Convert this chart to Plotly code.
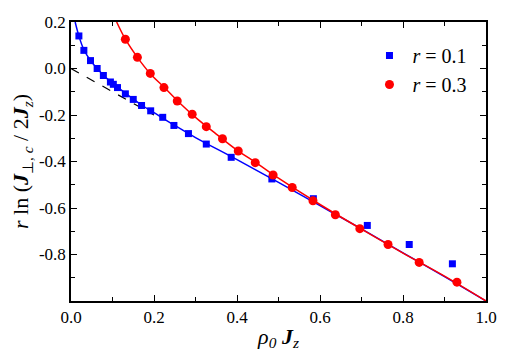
import plotly.graph_objects as go

# r = 0.1 data (blue squares)
x_r01 = [0.019, 0.031, 0.047, 0.063, 0.078, 0.095, 0.102, 0.112, 0.131, 0.150,
         0.170, 0.192, 0.221, 0.248, 0.283, 0.326, 0.386, 0.484, 0.584, 0.714,
         0.815, 0.919]
y_r01 = [0.140, 0.078, 0.034, 0.000, -0.030, -0.058, -0.068, -0.082, -0.109, -0.133,
         -0.159, -0.182, -0.210, -0.245, -0.280, -0.325, -0.382, -0.475, -0.560, -0.675,
         -0.757, -0.840]

# r = 0.3 data (red circles)
x_r03 = [0.131, 0.160, 0.191, 0.224, 0.256, 0.292, 0.326, 0.365, 0.403, 0.444,
         0.487, 0.533, 0.583, 0.637, 0.696, 0.764, 0.839, 0.930]
y_r03 = [0.126, 0.048, -0.021, -0.082, -0.140, -0.197, -0.250, -0.302, -0.355, -0.405,
         -0.458, -0.512, -0.569, -0.629, -0.689, -0.757, -0.834, -0.919]

# fit curves
fit01_x = [0.010, 0.019, 0.030, 0.047, 0.063, 0.080, 0.100, 0.130, 0.170, 0.200,
           0.250, 0.300, 0.400, 0.500, 0.600, 0.700, 0.800, 0.900, 1.000]
fit01_y = [0.200, 0.140, 0.085, 0.034, 0.000, -0.032, -0.063, -0.105, -0.157, -0.190,
           -0.245, -0.297, -0.392, -0.490, -0.590, -0.690, -0.793, -0.895, -1.000]
fit03_x = [0.110, 0.131, 0.160, 0.190, 0.225, 0.260, 0.300, 0.350, 0.400, 0.450,
           0.500, 0.600, 0.700, 0.800, 0.900, 1.000]
fit03_y = [0.200, 0.126, 0.048, -0.020, -0.082, -0.145, -0.210, -0.282, -0.351, -0.410,
           -0.472, -0.585, -0.691, -0.794, -0.893, -1.000]
dash_x = [0.0, 0.2]
dash_y = [0.0, -0.2]

xticks = [0.0, 0.2, 0.4, 0.6, 0.8, 1.0]
yticks = [0.2, 0.0, -0.2, -0.4, -0.6, -0.8]

BLUE = "#0000ff"
RED = "#ff0000"
FONT = "Liberation Serif"

fig = go.Figure()
fig.add_trace(go.Scatter(x=dash_x, y=dash_y, mode="lines",
                         line=dict(color="black", width=1.2, dash="dash"),
                         showlegend=False, hoverinfo="skip"))
fig.add_trace(go.Scatter(x=fit01_x, y=fit01_y, mode="lines",
                         line=dict(color=BLUE, width=1.5, shape="spline"),
                         showlegend=False))
fig.add_trace(go.Scatter(x=fit03_x, y=fit03_y, mode="lines",
                         line=dict(color=RED, width=1.5, shape="spline"),
                         showlegend=False))
fig.add_trace(go.Scatter(x=x_r01, y=y_r01, mode="markers", name="<i>r</i> = 0.1",
                         marker=dict(symbol="square", size=7, color=BLUE)))
fig.add_trace(go.Scatter(x=x_r03, y=y_r03, mode="markers", name="<i>r</i> = 0.3",
                         marker=dict(symbol="circle", size=9, color=RED)))

axis_common = dict(showgrid=False, zeroline=False, showline=True, linecolor="black",
                   linewidth=1.5, mirror="ticks", ticks="inside", ticklen=6,
                   tickwidth=1.2, tickcolor="black",
                   tickfont=dict(family=FONT, size=17, color="black"))

fig.update_xaxes(range=[0, 1.0], tickvals=xticks, ticktext=[f"{v:.1f}" for v in xticks],
                 minor=dict(ticks="inside", ticklen=4, tickwidth=1.2, dtick=0.1, tick0=0,
                            tickcolor="black", showgrid=False),
                 title=dict(text="<i>ρ</i><sub><i>0</i></sub> <b><i>J</i></b><sub><i>z</i></sub>",
                            font=dict(size=22, color="black"), standoff=2),
                 **axis_common)
fig.update_yaxes(range=[-1.0, 0.2], tickvals=yticks, ticktext=[f"{v:.1f}" for v in yticks],
                 minor=dict(ticks="inside", ticklen=4, tickwidth=1.2, dtick=0.1, tick0=0,
                            tickcolor="black", showgrid=False),
                 title=dict(text="<i>r</i> ln (<b><i>J</i></b><sub>⊥, <i>c</i></sub> / 2<b><i>J</i></b><sub><i>z</i></sub>)",
                            font=dict(size=22, color="black"), standoff=4),
                 **axis_common)

fig.update_layout(
    width=509, height=357,
    font=dict(family=FONT, color="black"),
    margin=dict(l=71, r=22, t=22, b=53),
    paper_bgcolor="white", plot_bgcolor="white",
    legend=dict(x=0.712, y=0.95, xanchor="left", yanchor="top",
                bgcolor="rgba(0,0,0,0)", font=dict(size=20, color="black"),
                tracegroupgap=0, itemsizing="trace", itemwidth=36),
)

fig.write_html("out.html")
